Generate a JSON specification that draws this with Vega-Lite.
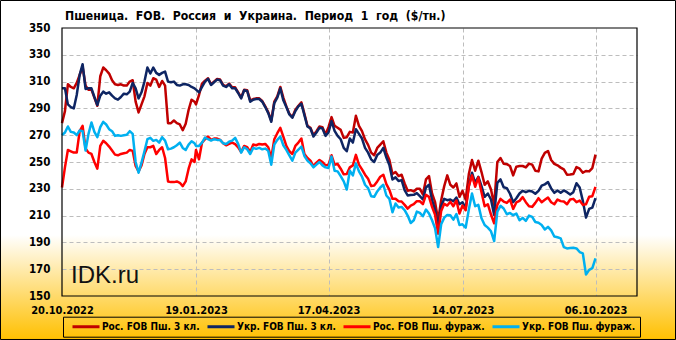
{
"$schema": "https://vega.github.io/schema/vega-lite/v6.json",
"width": 575,
"height": 268,
"autosize": {"type": "none"},
"padding": {"left": 62, "top": 28, "right": 39, "bottom": 44},
"background": "white",
"title": {"text": "Пшеница.\u00a0 FOB.\u00a0 Россия\u00a0 и\u00a0 Украина.\u00a0 Период\u00a0 1\u00a0 год\u00a0 ($/тн.)", "anchor": "start", "frame": "group", "dx": 3, "dy": 32, "offset": 0, "baseline": "alphabetic", "font": "DejaVu Sans Condensed", "fontSize": 12.2, "fontWeight": "bold", "color": "black"},
"config": {
  "view": {"stroke": null, "fill": {"gradient": "linear", "x1": 0, "y1": 0, "x2": 0, "y2": 1, "stops": [{"offset": 0, "color": "#ffffff"}, {"offset": 0.772, "color": "#ffffff"}, {"offset": 1, "color": "#ffda6b"}]}}
},
"resolve": {"axis": {"x": "independent", "y": "independent"}},
"data": {"format": {"parse": {"d": "date"}}, "values": [
{"d":"2022-10-20","a":279,"b":305,"c":231,"e":270},
{"d":"2022-10-22","a":288,"b":305,"c":246,"e":272},
{"d":"2022-10-24","a":308,"b":293,"c":259,"e":276.5},
{"d":"2022-10-26","a":306,"b":291,"c":258,"e":272.5},
{"d":"2022-10-28","a":305,"b":290,"c":257,"e":272},
{"d":"2022-10-30","a":309,"b":300,"c":257,"e":270},
{"d":"2022-11-01","a":315,"b":315,"c":273,"e":273.5},
{"d":"2022-11-03","a":321,"b":323,"c":277,"e":273},
{"d":"2022-11-05","a":307,"b":304.5,"c":260,"e":258.5},
{"d":"2022-11-07","a":304,"b":305,"c":257,"e":271},
{"d":"2022-11-09","a":304,"b":305,"c":256,"e":279.5},
{"d":"2022-11-11","a":298,"b":298.5,"c":250,"e":272.5},
{"d":"2022-11-13","a":292,"b":292.5,"c":245,"e":268.5},
{"d":"2022-11-15","a":314,"b":299.5,"c":262,"e":276},
{"d":"2022-11-17","a":320.5,"b":302.5,"c":265.8,"e":280},
{"d":"2022-11-19","a":318.5,"b":301,"c":264,"e":278},
{"d":"2022-11-21","a":316,"b":302,"c":261.5,"e":274.5},
{"d":"2022-11-23","a":311,"b":299.5,"c":258.5,"e":273},
{"d":"2022-11-25","a":308,"b":297.5,"c":255.5,"e":269.5},
{"d":"2022-11-27","a":307.5,"b":296.5,"c":255,"e":270},
{"d":"2022-11-29","a":308,"b":298.5,"c":256,"e":269.5},
{"d":"2022-12-01","a":307,"b":301,"c":256.5,"e":270},
{"d":"2022-12-03","a":307,"b":300.5,"c":257,"e":270.3},
{"d":"2022-12-05","a":310,"b":302.5,"c":259,"e":273},
{"d":"2022-12-07","a":311,"b":309,"c":258.3,"e":271},
{"d":"2022-12-09","a":295,"b":305,"c":247,"e":250},
{"d":"2022-12-11","a":287,"b":297.5,"c":243,"e":242},
{"d":"2022-12-13","a":293,"b":302,"c":247.5,"e":249.5},
{"d":"2022-12-15","a":299,"b":310,"c":256,"e":258},
{"d":"2022-12-17","a":309,"b":320.5,"c":261,"e":267},
{"d":"2022-12-19","a":307,"b":316,"c":261,"e":268},
{"d":"2022-12-21","a":312.5,"b":320.5,"c":262,"e":265.8},
{"d":"2022-12-23","a":311.5,"b":316.5,"c":256,"e":266.5},
{"d":"2022-12-25","a":306,"b":315,"c":259,"e":264.5},
{"d":"2022-12-27","a":310.5,"b":316.5,"c":261,"e":268.5},
{"d":"2022-12-29","a":307,"b":317.5,"c":253,"e":266},
{"d":"2022-12-31","a":279,"b":310,"c":235.5,"e":259.5},
{"d":"2023-01-02","a":279,"b":309.5,"c":235,"e":260},
{"d":"2023-01-04","a":281,"b":310,"c":235,"e":261},
{"d":"2023-01-06","a":279,"b":307.5,"c":235.5,"e":262.5},
{"d":"2023-01-08","a":278,"b":307,"c":234.5,"e":264.5},
{"d":"2023-01-10","a":273.7,"b":308,"c":232,"e":260.5},
{"d":"2023-01-12","a":278.5,"b":308,"c":235.5,"e":259},
{"d":"2023-01-14","a":289,"b":307.5,"c":245,"e":263},
{"d":"2023-01-16","a":296.5,"b":306,"c":252,"e":265.5},
{"d":"2023-01-18","a":295,"b":305,"c":250,"e":264},
{"d":"2023-01-19","a":293,"b":304,"c":259,"e":262},
{"d":"2023-01-21","a":300,"b":302,"c":252,"e":262},
{"d":"2023-01-23","a":308.5,"b":306,"c":264.5,"e":264.5},
{"d":"2023-01-25","a":310.7,"b":310,"c":267,"e":268.3},
{"d":"2023-01-27","a":312.5,"b":312,"c":269,"e":267},
{"d":"2023-01-29","a":308,"b":307.5,"c":266.5,"e":266},
{"d":"2023-01-31","a":310,"b":309.5,"c":267.5,"e":267},
{"d":"2023-02-02","a":312,"b":311.5,"c":267.5,"e":266.5},
{"d":"2023-02-04","a":311.5,"b":311,"c":266.5,"e":266.5},
{"d":"2023-02-06","a":307.5,"b":307,"c":264,"e":264},
{"d":"2023-02-08","a":306.5,"b":306,"c":262.5,"e":263.5},
{"d":"2023-02-10","a":308.5,"b":308,"c":263.5,"e":265.2},
{"d":"2023-02-12","a":305.7,"b":305,"c":264.5,"e":266},
{"d":"2023-02-14","a":305.7,"b":305,"c":263.3,"e":268},
{"d":"2023-02-16","a":302,"b":301.5,"c":261,"e":263.5},
{"d":"2023-02-18","a":298,"b":297.5,"c":257.5,"e":257},
{"d":"2023-02-20","a":304,"b":303.5,"c":262,"e":261},
{"d":"2023-02-22","a":303.5,"b":303,"c":261,"e":259.5},
{"d":"2023-02-24","a":296,"b":295,"c":257.5,"e":256},
{"d":"2023-02-26","a":297,"b":296.5,"c":263,"e":260.5},
{"d":"2023-02-28","a":297.5,"b":297,"c":262.5,"e":259.8},
{"d":"2023-03-02","a":297.5,"b":297,"c":263.5,"e":260.5},
{"d":"2023-03-04","a":295.5,"b":295,"c":263,"e":259.5},
{"d":"2023-03-06","a":291.5,"b":291,"c":263.5,"e":260},
{"d":"2023-03-08","a":287,"b":286.5,"c":261,"e":258.3},
{"d":"2023-03-10","a":281,"b":280,"c":253,"e":248},
{"d":"2023-03-12","a":295,"b":294,"c":267,"e":263},
{"d":"2023-03-14","a":299,"b":298,"c":271.5,"e":266.5},
{"d":"2023-03-16","a":306,"b":305,"c":275.5,"e":269},
{"d":"2023-03-18","a":298,"b":296,"c":269,"e":262.5},
{"d":"2023-03-20","a":291.5,"b":291,"c":262,"e":259},
{"d":"2023-03-22","a":286,"b":285.5,"c":258,"e":255},
{"d":"2023-03-24","a":283.5,"b":283,"c":256,"e":251},
{"d":"2023-03-26","a":289,"b":288,"c":262,"e":257},
{"d":"2023-03-28","a":292,"b":291.5,"c":264.5,"e":259.3},
{"d":"2023-03-30","a":294.5,"b":293.5,"c":267.5,"e":261.5},
{"d":"2023-04-01","a":286,"b":285,"c":256,"e":254.5},
{"d":"2023-04-03","a":277,"b":276.5,"c":253,"e":251},
{"d":"2023-04-05","a":275.5,"b":275,"c":251,"e":249},
{"d":"2023-04-07","a":270,"b":269,"c":247,"e":246},
{"d":"2023-04-09","a":273,"b":272,"c":249.5,"e":248},
{"d":"2023-04-11","a":276.5,"b":275.5,"c":251.5,"e":250},
{"d":"2023-04-13","a":276,"b":275,"c":250,"e":247.5},
{"d":"2023-04-15","a":270.5,"b":269.5,"c":247.5,"e":246},
{"d":"2023-04-17","a":276,"b":272,"c":248,"e":245.5},
{"d":"2023-04-19","a":283.5,"b":280.5,"c":255,"e":254},
{"d":"2023-04-21","a":277,"b":273.3,"c":248,"e":243.5},
{"d":"2023-04-23","a":275.5,"b":269.5,"c":248.5,"e":243},
{"d":"2023-04-25","a":274,"b":267,"c":245,"e":239.5},
{"d":"2023-04-27","a":268,"b":260.5,"c":240.8,"e":235.5},
{"d":"2023-04-29","a":268.5,"b":258,"c":241,"e":229.5},
{"d":"2023-05-01","a":272.5,"b":267.5,"c":246,"e":243.5},
{"d":"2023-05-03","a":272,"b":264.5,"c":247.5,"e":240},
{"d":"2023-05-05","a":284.5,"b":274.5,"c":255.3,"e":249},
{"d":"2023-05-07","a":277,"b":271,"c":248,"e":243},
{"d":"2023-05-09","a":273,"b":267.5,"c":244.5,"e":239},
{"d":"2023-05-11","a":266.8,"b":260.5,"c":240.5,"e":233},
{"d":"2023-05-13","a":262.8,"b":257,"c":237.5,"e":230.5},
{"d":"2023-05-15","a":257,"b":252,"c":232,"e":224.5},
{"d":"2023-05-17","a":255,"b":250,"c":232.5,"e":224},
{"d":"2023-05-19","a":260.5,"b":255.3,"c":235.5,"e":228},
{"d":"2023-05-21","a":263,"b":257,"c":239,"e":231},
{"d":"2023-05-23","a":265.5,"b":260.5,"c":240.5,"e":233},
{"d":"2023-05-25","a":257,"b":253.3,"c":233.5,"e":225},
{"d":"2023-05-27","a":251.5,"b":247.8,"c":229.2,"e":222.5},
{"d":"2023-05-29","a":241,"b":237,"c":222.5,"e":212.5},
{"d":"2023-05-31","a":242.5,"b":238.5,"c":222.5,"e":219},
{"d":"2023-06-02","a":239.5,"b":235.8,"c":220.7,"e":216},
{"d":"2023-06-04","a":240.5,"b":236.5,"c":220.5,"e":216.5},
{"d":"2023-06-06","a":234,"b":229,"c":218,"e":214},
{"d":"2023-06-08","a":228.5,"b":225,"c":215.2,"e":210},
{"d":"2023-06-10","a":229,"b":225.3,"c":217.5,"e":204.5},
{"d":"2023-06-12","a":228,"b":225.5,"c":218.5,"e":206.5},
{"d":"2023-06-14","a":230,"b":226.8,"c":220.8,"e":213},
{"d":"2023-06-16","a":230,"b":224.5,"c":220.7,"e":212},
{"d":"2023-06-18","a":225.8,"b":222,"c":218.5,"e":209.5},
{"d":"2023-06-20","a":237,"b":231,"c":225.5,"e":214.5},
{"d":"2023-06-22","a":239.5,"b":233,"c":224,"e":211.5},
{"d":"2023-06-24","a":226.5,"b":221.5,"c":216.5,"e":206.5},
{"d":"2023-06-26","a":220,"b":214.3,"c":210.5,"e":200.5},
{"d":"2023-06-28","a":206.5,"b":200.5,"c":196.5,"e":186.5},
{"d":"2023-06-30","a":221.5,"b":217,"c":213.5,"e":203.5},
{"d":"2023-07-02","a":232,"b":222.5,"c":218.8,"e":208.5},
{"d":"2023-07-04","a":240,"b":221.5,"c":217.5,"e":210.5},
{"d":"2023-07-06","a":233,"b":222,"c":220.3,"e":210.3},
{"d":"2023-07-08","a":231,"b":220.7,"c":217,"e":207},
{"d":"2023-07-10","a":234,"b":223.5,"c":221.3,"e":211.2},
{"d":"2023-07-12","a":224,"b":218.5,"c":211.5,"e":203},
{"d":"2023-07-14","a":228.5,"b":220,"c":217.5,"e":203.5},
{"d":"2023-07-16","a":222,"b":215.5,"c":214,"e":201},
{"d":"2023-07-18","a":241,"b":232,"c":232,"e":214.5},
{"d":"2023-07-20","a":251.5,"b":242,"c":240,"e":226.5},
{"d":"2023-07-22","a":243.5,"b":234.5,"c":231.5,"e":217},
{"d":"2023-07-24","a":251,"b":239,"c":238.5,"e":218},
{"d":"2023-07-26","a":242.5,"b":232,"c":227.5,"e":208},
{"d":"2023-07-28","a":233,"b":224,"c":217,"e":203},
{"d":"2023-07-30","a":235.5,"b":226.5,"c":218.5,"e":201},
{"d":"2023-08-01","a":229.5,"b":222,"c":210.8,"e":198.3},
{"d":"2023-08-03","a":218,"b":210.5,"c":204.3,"e":191},
{"d":"2023-08-05","a":250,"b":234.5,"c":218,"e":213},
{"d":"2023-08-07","a":253,"b":237,"c":222.5,"e":217.3},
{"d":"2023-08-09","a":248.7,"b":231.2,"c":220.5,"e":215.3},
{"d":"2023-08-11","a":248.4,"b":230.5,"c":219.5,"e":211},
{"d":"2023-08-13","a":247,"b":226.3,"c":222,"e":212},
{"d":"2023-08-15","a":240,"b":220,"c":215,"e":210.3},
{"d":"2023-08-17","a":246.5,"b":223,"c":219.8,"e":211.5},
{"d":"2023-08-19","a":247,"b":226.5,"c":221,"e":206.5},
{"d":"2023-08-21","a":247,"b":228.5,"c":223.8,"e":208.3},
{"d":"2023-08-23","a":246,"b":227.5,"c":220,"e":206},
{"d":"2023-08-25","a":248.8,"b":228.5,"c":217,"e":210},
{"d":"2023-08-27","a":248,"b":228,"c":216.5,"e":209},
{"d":"2023-08-29","a":243.5,"b":226.3,"c":219.5,"e":205.2},
{"d":"2023-08-31","a":243,"b":228.5,"c":223,"e":204.6},
{"d":"2023-09-02","a":252.5,"b":232.3,"c":220,"e":203},
{"d":"2023-09-04","a":256.8,"b":233.3,"c":221.8,"e":199.6},
{"d":"2023-09-06","a":258.2,"b":235,"c":223.5,"e":201.6},
{"d":"2023-09-08","a":251.5,"b":230.3,"c":220,"e":199},
{"d":"2023-09-10","a":248.6,"b":227,"c":218.5,"e":194.4},
{"d":"2023-09-12","a":247.5,"b":228.8,"c":222,"e":193.8},
{"d":"2023-09-14","a":245.8,"b":227,"c":220.8,"e":193},
{"d":"2023-09-16","a":244.5,"b":228.8,"c":220.5,"e":186.5},
{"d":"2023-09-18","a":240.5,"b":227.5,"c":218.5,"e":185.5},
{"d":"2023-09-20","a":240.6,"b":225.8,"c":222,"e":185.8},
{"d":"2023-09-22","a":241,"b":227.5,"c":222.5,"e":186},
{"d":"2023-09-24","a":246.2,"b":234.2,"c":220,"e":185.5},
{"d":"2023-09-26","a":245,"b":231,"c":221.2,"e":182.8},
{"d":"2023-09-28","a":242,"b":221,"c":218,"e":181.8},
{"d":"2023-09-30","a":243.3,"b":208.5,"c":218.5,"e":166},
{"d":"2023-10-02","a":243,"b":215,"c":224,"e":169.5},
{"d":"2023-10-04","a":245.5,"b":216,"c":224.5,"e":170.8},
{"d":"2023-10-06","a":255.5,"b":223,"c":231.5,"e":178}
]},
"layer": [
  {
    "data": {"values": [{}]},
    "mark": {"type": "rect", "fill": {"gradient": "linear", "x1": 0, "y1": 0, "x2": 0, "y2": 1, "stops": [{"offset": 0, "color": "#ffffff"}, {"offset": 1, "color": "#ffda6b"}]}},
    "encoding": {
      "x": {"datum": 1659312000000, "type": "quantitative", "axis": null,
        "scale": {"type": "linear", "nice": false, "zero": false, "domain": [1666224000000, 1674086400000, 1681689600000, 1689292800000, 1696550400000, 1698796800000], "range": [0, 134, 266.5, 400.5, 533.5, 575]}},
      "x2": {"datum": 1666224000000},
      "y": {"datum": 195.5, "type": "quantitative", "axis": null, "scale": {"domain": [150, 350], "nice": false, "zero": false}},
      "y2": {"datum": 150}
    }
  },
  {
    "data": {"values": [{}]},
    "mark": {"type": "rect", "fill": {"gradient": "linear", "x1": 0, "y1": 0, "x2": 0, "y2": 1, "stops": [{"offset": 0, "color": "#ffffff"}, {"offset": 1, "color": "#ffda6b"}]}},
    "encoding": {
      "x": {"datum": 1698796800000, "type": "quantitative", "axis": null},
      "x2": {"datum": 1706659200000},
      "y": {"datum": 195.5, "type": "quantitative", "axis": null},
      "y2": {"datum": 150}
    }
  },
  {
    "data": {"values": [{}]},
    "mark": {"type": "rect", "fill": {"gradient": "linear", "x1": 0, "y1": 0, "x2": 0, "y2": 1, "stops": [{"offset": 0, "color": "#ffda6b"}, {"offset": 1, "color": "#ffc000"}]}},
    "encoding": {
      "x": {"datum": 1659312000000, "type": "quantitative", "axis": null},
      "x2": {"datum": 1706659200000},
      "y": {"datum": 150, "type": "quantitative", "axis": null},
      "y2": {"datum": 117.16}
    }
  },
  {
    "data": {"values": [{}]},
    "mark": {"type": "text", "text": "IDK.ru", "align": "left", "baseline": "alphabetic", "font": "Liberation Sans", "fontSize": 24, "color": "#111111"},
    "encoding": {
      "x": {"datum": 1666752000000, "type": "quantitative", "axis": null},
      "y": {"datum": 159.9, "type": "quantitative", "axis": null}
    }
  },
  {
    "mark": {"type": "line", "strokeWidth": 2.5, "strokeJoin": "round"},
    "encoding": {
      "x": {"field": "d", "type": "quantitative", "axis": {"orient": "bottom", "values": [1666224000000, 1674086400000, 1681689600000, 1689292800000, 1696550400000], "labelExpr": "utcFormat(datum.value, '%d.%m.%Y')", "grid": false, "ticks": false, "domain": false, "labelFont": "DejaVu Sans Condensed", "labelFontSize": 11, "labelFontWeight": "bold", "labelColor": "black", "labelPadding": 8, "labelFlush": false, "labelOverlap": false, "title": null, "zindex": 1}},
      "y": {"field": "a", "type": "quantitative", "axis": {"orient": "left", "values": [150, 170, 190, 210, 230, 250, 270, 290, 310, 330, 350], "grid": false, "ticks": false, "domain": false, "labelFont": "DejaVu Sans Condensed", "labelFontSize": 11.5, "labelFontWeight": "bold", "labelColor": "black", "labelPadding": 12, "labelOverlap": false, "title": null, "zindex": 1}},
      "color": {"datum": "Рос. FOB Пш. 3 кл.", "type": "nominal",
        "scale": {"domain": ["Рос. FOB Пш. 3 кл.", "Укр. FOB Пш. 3 кл.", "Рос. FOB Пш. фураж.", "Укр. FOB Пш. фураж."], "range": ["#c00000", "#0e2563", "#ff0000", "#00b0f0"]},
        "legend": {"orient": "none", "legendX": 1, "legendY": 288.7, "direction": "horizontal", "columns": 4, "gridAlign": "each", "title": null, "symbolType": "stroke", "symbolSize": 729, "symbolStrokeWidth": 3, "clipHeight": 12, "symbolOffset": 4, "labelOffset": 1, "columnPadding": 2, "padding": 4, "labelFont": "DejaVu Sans Condensed", "labelFontSize": 10, "labelFontWeight": "bold", "labelColor": "black", "strokeColor": "black"}}
    }
  },
  {
    "mark": {"type": "line", "strokeWidth": 2.5, "strokeJoin": "round"},
    "encoding": {
      "x": {"field": "d", "type": "quantitative", "axis": {"orient": "bottom", "values": [1674086400000, 1681689600000, 1689292800000, 1696550400000], "grid": true, "gridColor": "#bdbdbd", "gridDash": [4, 3], "gridWidth": 1, "labels": false, "ticks": false, "domain": false, "title": null, "zindex": 0}},
      "y": {"field": "b", "type": "quantitative", "axis": {"orient": "left", "values": [170, 190, 210, 230, 250, 270, 290, 310, 330], "grid": true, "gridColor": "#bdbdbd", "gridDash": [4, 3], "gridWidth": 1, "labels": false, "ticks": false, "domain": false, "title": null, "zindex": 0}},
      "color": {"datum": "Укр. FOB Пш. 3 кл.", "type": "nominal"}
    }
  },
  {
    "mark": {"type": "line", "strokeWidth": 2.5, "strokeJoin": "round"},
    "encoding": {
      "x": {"field": "d", "type": "quantitative", "axis": null},
      "y": {"field": "c", "type": "quantitative", "axis": null},
      "color": {"datum": "Рос. FOB Пш. фураж.", "type": "nominal"}
    }
  },
  {
    "mark": {"type": "line", "strokeWidth": 2.5, "strokeJoin": "round"},
    "encoding": {
      "x": {"field": "d", "type": "quantitative", "axis": null},
      "y": {"field": "e", "type": "quantitative", "axis": null},
      "color": {"datum": "Укр. FOB Пш. фураж.", "type": "nominal"}
    }
  },
  {
    "data": {"values": [{}]},
    "mark": {"type": "rect", "fill": null, "fillOpacity": 0, "stroke": "black", "strokeWidth": 1.2},
    "encoding": {
      "x": {"datum": 1666224000000, "type": "quantitative", "axis": null},
      "x2": {"datum": 1698796800000},
      "y": {"datum": 350, "type": "quantitative", "axis": null},
      "y2": {"datum": 150}
    }
  },
  {
    "data": {"values": [{}]},
    "mark": {"type": "rect", "fill": null, "fillOpacity": 0, "stroke": "black", "strokeWidth": 1},
    "encoding": {
      "x": {"datum": 1662615510448, "type": "quantitative", "axis": null},
      "x2": {"datum": 1700880809620},
      "y": {"datum": 370.52, "type": "quantitative", "axis": null},
      "y2": {"datum": 117.54}
    }
  }
]
}
